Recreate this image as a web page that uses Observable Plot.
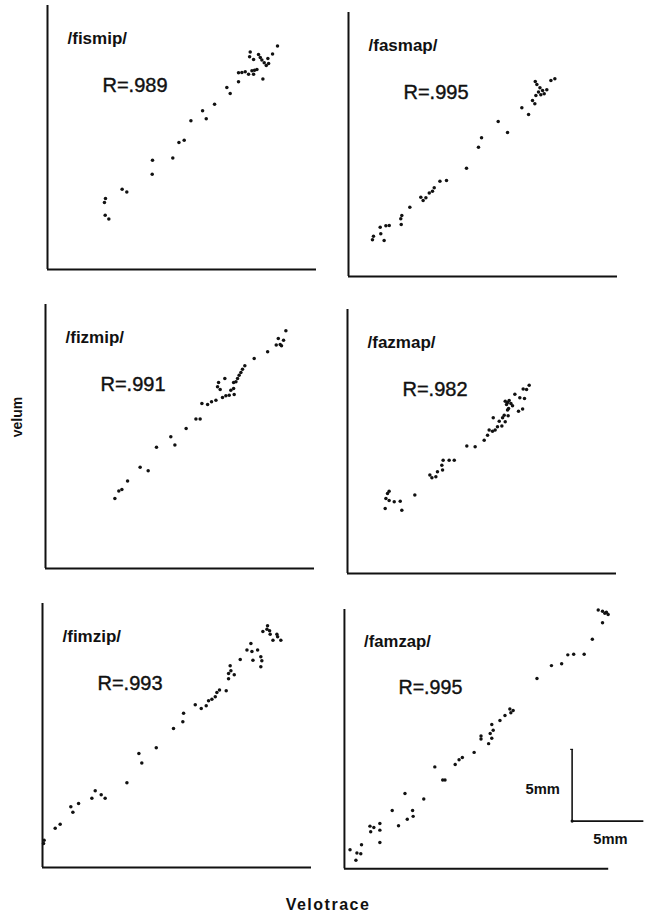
<!DOCTYPE html>
<html>
<head>
<meta charset="utf-8">
<script src="https://cdn.jsdelivr.net/npm/d3@7"></script>
<script src="https://cdn.jsdelivr.net/npm/@observablehq/plot@0.6"></script>
<style>
  body { margin: 0; background: #fff; }
  #fig { position: relative; width: 647px; height: 917px; overflow: hidden; background: #fff;
         font-family: "Liberation Sans", Arial, Helvetica, sans-serif; color: #111; }
  .panel { position: absolute; }
  .ylab { position: absolute; left: 17px; top: 417px; transform: translate(-50%, -50%) rotate(-90deg);
          font-weight: bold; font-size: 14px; white-space: nowrap; }
  .xlab { position: absolute; left: 328px; top: 905px; transform: translate(-50%, -50%);
          font-weight: bold; font-size: 16px; letter-spacing: 1.5px; white-space: nowrap; }
</style>
</head>
<body>
<div id="fig"></div>
<script>
// ---- data (mm; origin = lower-left corner of each panel) ----
const panelNames = ["/fismip/", "/fasmap/", "/fizmip/", "/fazmap/", "/fimzip/", "/famzap/"];
const rValues = [".989", ".995", ".991", ".982", ".993", ".995"];
const xLabel = "Velotrace";
const yLabel = "velum";
const scaleLabel = "5mm";
const scaleLength = 5; // mm

const fismipVelotrace = [13.88,13.84,14.11,14.45,14.57,14.68,14.84,14.98,15.14,15.41,15.75,15.09,13.08,13.31,13.54,13.77,14.00,14.18,14.34,14.11,14.75,13.08,12.28,12.51,11.44,10.62,10.87,9.82,9.36,9.00,8.58,7.19,7.17,5.11,5.43,3.97,3.90,3.95,4.20];
const fismipVelum = [14.89,14.57,14.38,14.73,14.52,14.34,14.16,13.97,14.11,14.75,15.30,14.45,13.47,13.49,13.54,13.38,13.61,13.65,13.70,13.38,13.04,12.85,12.47,12.05,11.32,10.87,10.32,10.18,8.86,8.70,7.63,7.49,6.53,5.50,5.30,4.86,4.59,3.72,3.45];

const fasmapVelotrace = [14.13,13.86,12.79,12.90,13.11,13.29,13.01,12.83,13.17,13.40,13.58,12.60,12.76,11.87,12.33,10.25,10.89,9.11,8.90,8.08,6.71,6.26,5.87,5.75,5.53,5.30,5.11,4.95,4.20,3.65,3.58,3.61,2.79,2.56,2.17,2.21,1.71,1.64,2.44];
const fasmapVelum = [13.54,13.42,13.36,13.15,12.92,12.74,12.63,12.40,12.44,12.51,12.79,12.05,11.83,11.55,11.10,10.62,9.86,9.50,8.86,7.42,6.58,6.53,6.07,5.84,5.71,5.39,5.21,5.43,4.75,4.18,3.95,3.56,3.49,3.47,3.38,2.92,2.76,2.51,2.47];

const fizmipVelotrace = [16.46,15.94,16.30,16.07,16.16,15.80,15.21,14.29,13.65,13.49,13.38,13.26,13.15,13.04,12.88,12.69,12.92,12.28,11.85,12.88,11.78,11.96,12.58,12.35,12.12,11.67,11.37,11.10,10.71,10.59,10.30,9.63,8.58,8.86,7.60,6.48,7.03,5.62,5.23,5.02,4.75];
const fizmipVelum = [16.28,15.75,15.64,15.34,15.25,15.30,14.84,14.38,13.88,13.65,13.42,13.24,13.01,12.79,12.33,12.21,11.92,13.01,12.74,12.74,12.44,12.26,11.87,11.83,11.71,11.53,11.42,11.23,11.30,10.23,10.23,9.59,9.02,8.45,8.31,6.94,6.69,6.00,5.41,5.30,4.79];

const fazmapVelotrace = [12.44,12.26,12.03,11.46,11.80,12.12,10.80,10.96,11.07,10.89,11.19,11.30,11.03,11.71,11.99,10.96,10.73,11.00,10.62,10.39,10.80,10.57,10.27,9.98,10.11,9.93,9.70,9.36,9.59,8.74,8.17,7.31,6.96,6.55,6.46,6.51,6.16,6.05,5.78,5.64,4.61,2.85,2.74,2.63,2.85,3.20,3.61,2.58,3.72];
const fazmapVelum = [12.90,12.60,12.63,12.28,12.03,11.99,11.80,11.71,11.85,11.58,11.64,11.48,11.30,11.12,11.26,11.19,10.84,10.80,10.66,10.43,10.39,10.11,10.05,10.66,9.82,9.75,9.82,9.13,9.47,8.68,8.74,7.76,7.76,7.76,7.42,7.08,6.96,6.62,6.55,6.74,5.37,5.64,5.48,5.14,5.00,4.91,4.95,4.45,4.34];

const fimzipVelotrace = [15.41,15.09,15.37,15.55,15.59,16.05,15.78,16.32,16.10,14.27,14.00,14.34,14.73,14.95,14.41,15.02,14.95,13.54,12.85,12.90,13.13,12.74,12.74,12.58,12.12,11.94,11.83,11.60,11.37,11.21,10.87,10.46,9.66,9.61,8.97,7.79,6.60,6.80,5.78,3.61,3.38,4.02,4.29,2.47,1.94,2.08,1.21,0.87,0.11,0.07];
const fimzipVelum = [16.55,16.16,16.32,16.21,15.98,15.98,15.57,15.57,15.80,15.34,14.89,14.79,14.89,14.43,14.20,14.16,13.74,14.25,13.81,13.47,13.20,13.29,12.92,12.10,12.15,11.99,11.69,11.53,11.42,11.07,10.89,11.14,10.57,9.98,9.52,8.20,7.81,7.15,5.80,5.25,4.75,4.98,4.75,4.38,4.16,3.79,2.97,2.69,1.87,1.64];

const famzapVelotrace = [17.69,17.99,18.15,18.38,18.26,17.99,17.28,16.71,15.98,15.57,15.14,14.43,13.42,11.76,11.53,11.60,11.19,10.84,10.27,10.37,10.16,10.27,10.05,9.52,9.52,9.04,8.22,7.99,7.72,6.30,7.01,6.85,5.53,4.22,3.33,4.75,4.79,4.38,3.77,2.47,2.47,2.05,1.78,1.83,2.47,1.19,1.14,0.87,0.39,0.80];
const famzapVelum = [18.04,17.95,17.81,17.72,17.88,17.15,16.00,14.95,14.95,14.91,14.29,14.16,13.26,11.03,11.14,10.87,10.68,10.34,10.05,9.66,9.43,9.09,8.72,9.25,9.04,8.11,7.76,7.60,7.26,7.10,6.19,6.19,4.86,5.25,4.06,4.06,3.65,3.45,2.99,3.15,2.69,2.88,2.97,2.58,1.83,1.67,1.05,1.10,1.32,0.59];

// ---- build tables ----
const series = [
  [fismipVelotrace, fismipVelum],
  [fasmapVelotrace, fasmapVelum],
  [fizmipVelotrace, fizmipVelum],
  [fazmapVelotrace, fazmapVelum],
  [fimzipVelotrace, fimzipVelum],
  [famzapVelotrace, famzapVelum]
];
const tables = series.map(([xs, ys]) => xs.map((x, i) => ({velotrace: x, velum: ys[i]})));

// ---- layout ----
const W = 269, H = 264;          // panel frame size in px
const XMAX = 18.42, YMAX = 18.08; // panel extent in mm
const ML = 3, MT = 6, MB = 3;
// lower-left corner of each panel on the page
const origins = [[46.5, 269], [348, 275.5], [44.5, 568], [346.5, 573], [42, 867], [343.5, 873]];
const FONT = "Liberation Sans, Arial, Helvetica, sans-serif";

const fig = document.getElementById("fig");

tables.forEach((data, i) => {
  const isLast = i === 5;
  const MR = isLast ? 40 : 4;
  const marks = [
    Plot.ruleX([0], {stroke: "#111", strokeWidth: 2}),
    Plot.ruleY([0], {stroke: "#111", strokeWidth: 2}),
    Plot.dot(data, {x: "velotrace", y: "velum", r: 1.75, fill: "#111", stroke: "none"}),
    Plot.text([panelNames[i]], {frameAnchor: "top-left", dx: 20, dy: 33, text: d => d,
      fontSize: 17, fontWeight: "bold", textAnchor: "start", lineAnchor: "middle", fill: "#111", fontFamily: FONT}),
    Plot.text(["R=" + rValues[i]], {frameAnchor: "top-left", dx: 55, dy: 80, text: d => d,
      fontSize: 20, textAnchor: "start", lineAnchor: "middle", fill: "#111", fontFamily: FONT,
      stroke: "#111", strokeWidth: 0.4})
  ];
  if (isLast) {
    const sx = 15.87, sy = 3.32;
    marks.push(
      Plot.ruleX([sx], {y1: sy, y2: sy + scaleLength, stroke: "#111", strokeWidth: 1.6}),
      Plot.ruleY([sy], {x1: sx, x2: sx + scaleLength, stroke: "#111", strokeWidth: 1.6}),
      Plot.ruleY([sy + scaleLength], {x1: sx - 0.1, x2: sx + 0.1, stroke: "#111", strokeWidth: 1.2}),
      Plot.dot([[sx, sy]], {x: d => d[0], y: d => d[1], r: 1.6, fill: "#111"}),
      Plot.text([[sx, sy + scaleLength / 2]], {x: d => d[0], y: d => d[1], text: () => scaleLabel,
        dx: -30, dy: 4, fontSize: 15, fontWeight: "bold", textAnchor: "middle", fill: "#111", fontFamily: FONT}),
      Plot.text([[sx, sy]], {x: d => d[0], y: d => d[1], text: () => scaleLabel,
        dx: 39, dy: 18, fontSize: 15, fontWeight: "bold", textAnchor: "middle", fill: "#111", fontFamily: FONT})
    );
  }
  const chart = Plot.plot({
    width: ML + W + MR,
    height: MT + H + MB,
    marginLeft: ML, marginRight: MR, marginTop: MT, marginBottom: MB,
    x: {domain: [0, XMAX], axis: null},
    y: {domain: [0, YMAX], axis: null},
    style: {background: "transparent", overflow: "visible", fontFamily: FONT},
    marks
  });
  const div = document.createElement("div");
  div.className = "panel";
  div.style.left = (origins[i][0] - ML) + "px";
  div.style.top = (origins[i][1] - H - MT) + "px";
  div.appendChild(chart);
  fig.appendChild(div);
});

const yl = document.createElement("div");
yl.className = "ylab"; yl.textContent = yLabel; fig.appendChild(yl);
const xl = document.createElement("div");
xl.className = "xlab"; xl.textContent = xLabel; fig.appendChild(xl);
</script>
</body>
</html>
